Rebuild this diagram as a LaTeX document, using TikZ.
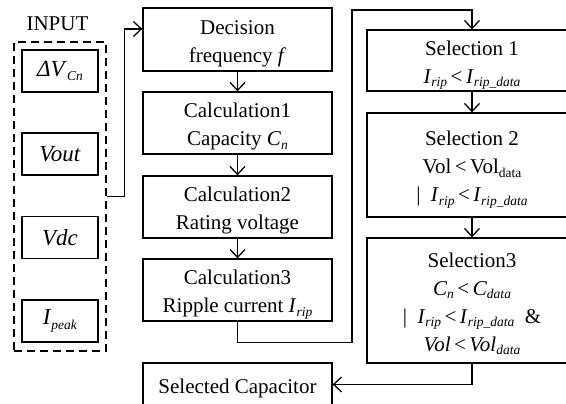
\documentclass[tikz,border=0pt]{standalone}
\usepackage{fontspec}
\setmainfont{Liberation Serif}
\usetikzlibrary{arrows.meta}
\newcommand{\sbx}[1]{\raisebox{-0.4ex}{\fontsize{13.5}{13.5}\selectfont #1}}
\newcommand{\Irip}{\textit{I}\sbx{\textit{rip}}}
\newcommand{\Iripd}{\textit{I}\sbx{\textit{rip\_data}}}
\newcommand{\bt}[1]{\raisebox{-3pt}[\height][\depth]{\begin{tabular}{@{}c@{}}#1\end{tabular}}}
\begin{document}
\begin{tikzpicture}[x=1pt,y=-1pt,
  every node/.style={font=\fontsize{21}{28}\selectfont, align=center, inner sep=0pt},
  box/.style={draw, line width=1.3pt, minimum width=189pt},
  ibox/.style={draw, line width=1.3pt, minimum width=76pt, minimum height=42pt, font=\fontsize{23}{28}\selectfont},
  sbox/.style={draw, line width=1.3pt, minimum width=210pt},
  arr/.style={line width=1.3pt, -{Straight Barb[length=8pt,width=15pt]}}]
\useasboundingbox (0,0) rectangle (566,404);
\begin{scope}
\clip (0,0) rectangle (566,404);
% input group
\node (inlbl) at (57.5,24) {INPUT};
\node[draw, dashed, dash pattern=on 8pt off 5pt, line width=1.3pt, minimum width=92pt, minimum height=309pt] (inp) at (60,196.5) {};
\node[ibox] (dv) at (60,71) {\textit{ΔV}\sbx{\textit{Cn}}};
\node[ibox] (vout) at (60,154) {\textit{Vout}};
\node[ibox] (vdc) at (60,237.5) {\textit{Vdc}};
\node[ibox] (ipk) at (60,321) {\textit{I}\sbx{\textit{peak}}};
% middle column
\node[box, minimum height=63pt] (dec) at (237.5,39.5) {\bt{Decision\\frequency \textit{f}}};
\node[box, minimum height=62pt] (c1) at (237.5,123) {\bt{Calculation1\\Capacity \textit{C}\sbx{\textit{n}}}};
\node[box, minimum height=62pt] (c2) at (237.5,207) {\bt{Calculation2\\Rating voltage}};
\node[box, minimum height=62pt] (c3) at (237.5,290) {\bt{Calculation3\\Ripple current \Irip}};
\node[box, minimum height=43pt] (sel) at (237.5,384.5) {\bt{Selected Capacitor}};
% right column
\node[sbox, minimum height=61pt] (s1) at (472,60.5) {\bt{Selection 1\\\Irip\,<\,\Iripd}};
\node[sbox, minimum height=104pt] (s2) at (472,165) {\bt{Selection 2\\Vol\,<\,Vol\sbx{data}\\|\enspace\Irip\,<\,\Iripd}};
\node[sbox, minimum height=125pt] (s3) at (472,300.5) {\bt{Selection3\\\textit{C}\sbx{\textit{n}}\,<\,\textit{C}\sbx{\textit{data}}\\|\enspace\Irip\,<\,\Iripd\enspace\&\\\textit{Vol}\,<\,\textit{Vol}\sbx{\textit{data}}}};
% connectors
\draw[arr] (inp.east) -- ++(18,0) |- ([yshift=10.5pt]dec.west);
\draw[arr] (dec) -- (c1);
\draw[arr] (c1) -- (c2);
\draw[arr] (c2) -- (c3);
\draw[arr] (c3.south) -- ++(0,21) -| (352,10) -| (s1.north);
\draw[arr] (s1) -- (s2);
\draw[arr] (s2) -- (s3);
\draw[arr] (s3.south) |- (sel.east);
\end{scope}
\end{tikzpicture}
\end{document}
